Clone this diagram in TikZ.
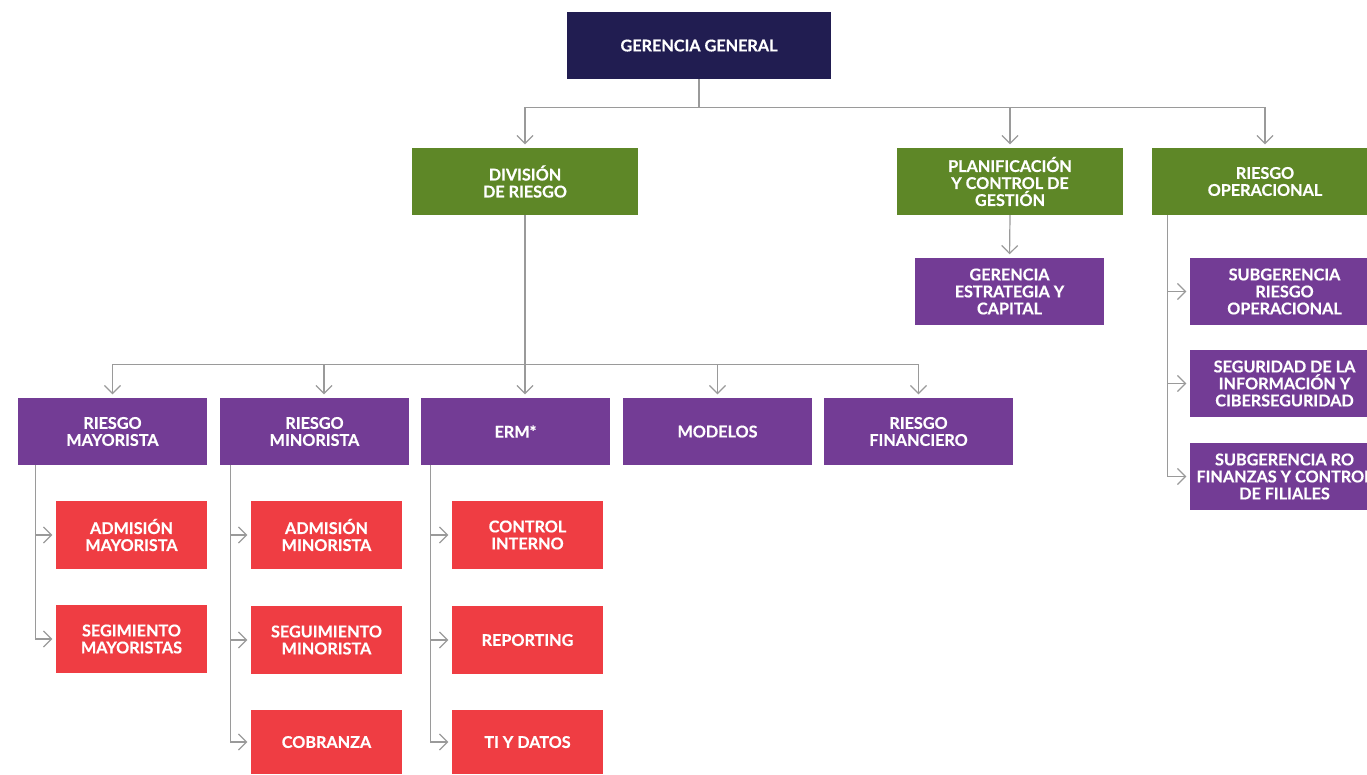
\documentclass[tikz,border=0pt]{standalone}
\usepackage{fontspec}
\setmainfont{Lato}
\newfontfamily\boxfont[BoldFeatures={FakeBold=0.5}]{Lato}
\usetikzlibrary{arrows.meta}
\definecolor{navy}{HTML}{211D51}
\definecolor{grn}{HTML}{5E8727}
\definecolor{purp}{HTML}{733C95}
\definecolor{redb}{HTML}{EF3D43}
\definecolor{linegray}{HTML}{9A9A9A}
\begin{document}
\begin{tikzpicture}[x=1pt,y=-1pt,
  box/.style={rectangle, inner sep=0pt, text=white, font=\boxfont\bfseries\fontsize{16.2}{17}\selectfont, align=center},
  one/.style={text depth=0pt},
  wide/.style={box, minimum width=226pt, minimum height=67pt},
  pbox/.style={box, fill=purp, minimum width=189pt, minimum height=67pt},
  rbox/.style={box, fill=redb, minimum width=151pt, minimum height=68pt},
  conn/.style={draw=linegray, line width=1.2pt},
  arr/.style={conn, -{Straight Barb[length=8pt,width=16pt,line width=1.2pt]}, shorten >=3.5pt}
]
\useasboundingbox (0,0) rectangle (1367,774);
\clip (0,0) rectangle (1367,774);
% top
\node[box, one, fill=navy, minimum width=264pt, minimum height=67pt] (gg) at (699,45.5) {GERENCIA GENERAL};
\node[wide, fill=grn] (div) at (525,181.5) {DIVISIÓN\\DE RIESGO};
\node[wide, fill=grn] (plan) at (1010,181.5) {PLANIFICACIÓN\\Y CONTROL DE\\GESTIÓN};
\node[wide, fill=grn] (rop) at (1265,181.5) {RIESGO\\OPERACIONAL};
\node[pbox] (gec) at (1009.5,291.5) {GERENCIA\\ESTRATEGIA Y\\CAPITAL};
\node[pbox] (sro) at (1284.5,291.5) {SUBGERENCIA\\RIESGO\\OPERACIONAL};
\node[pbox] (seg) at (1284.5,383.5) {SEGURIDAD DE LA\\INFORMACIÓN Y\\CIBERSEGURIDAD};
\node[pbox] (sub) at (1284.5,476.5) {SUBGERENCIA RO\\FINANZAS Y CONTROL\\DE FILIALES};
% second row
\node[pbox] (rmay) at (112.5,431.5) {RIESGO\\MAYORISTA};
\node[pbox] (rmin) at (314.5,431.5) {RIESGO\\MINORISTA};
\node[pbox, one] (erm) at (515.5,431.5) {ERM*};
\node[pbox, one] (mod) at (717.5,431.5) {MODELOS};
\node[pbox] (rfin) at (918.5,431.5) {RIESGO\\FINANCIERO};
% red
\node[rbox] (amay) at (131.5,535) {ADMISIÓN\\MAYORISTA};
\node[rbox] (smay) at (131.5,639) {SEGIMIENTO\\MAYORISTAS};
\node[rbox] (amin) at (326.5,535) {ADMISIÓN\\MINORISTA};
\node[rbox] (smin) at (326.5,640) {SEGUIMIENTO\\MINORISTA};
\node[rbox, one, minimum height=64pt] (cob) at (326.5,742) {COBRANZA};
\node[rbox] (ci) at (527.5,535) {CONTROL\\INTERNO};
\node[rbox, one] (rep) at (527.5,640) {REPORTING};
\node[rbox, one, minimum height=64pt] (ti) at (527.5,742) {TI Y DATOS};
% connectors top
\draw[conn] (gg.south) -- ++(0,28) coordinate (gj);
\draw[arr] (gj) -| (div.north);
\draw[arr] (gj) -| (plan.north);
\draw[arr] (gj) -| (rop.north);
\draw[arr] (plan.south) -- (gec.north);
% division bus
\draw[conn] (div.south) -- ++(0,149) coordinate (dj);
\draw[arr] (dj) -- (div.south |- erm.north);
\draw[arr] (dj) -| (rmay.north);
\draw[arr] (dj) -| ([xshift=9.5pt]rmin.north);
\draw[arr] (dj) -| (mod.north);
\draw[arr] (dj) -| (rfin.north);
% side trunks
\draw[arr] ([xshift=16pt]rop.south west) |- (sro.west);
\draw[arr] ([xshift=16pt]rop.south west) |- (seg.west);
\draw[arr] ([xshift=16pt]rop.south west) |- (sub.west);
\draw[arr] ([xshift=18pt]rmay.south west) |- (amay.west);
\draw[arr] ([xshift=18pt]rmay.south west) |- (smay.west);
\draw[arr] ([xshift=11pt]rmin.south west) |- (amin.west);
\draw[arr] ([xshift=11pt]rmin.south west) |- (smin.west);
\draw[arr] ([xshift=11pt]rmin.south west) |- (cob.west);
\draw[arr] ([xshift=10pt]erm.south west) |- (ci.west);
\draw[arr] ([xshift=10pt]erm.south west) |- (rep.west);
\draw[arr] ([xshift=10pt]erm.south west) |- (ti.west);
\end{tikzpicture}
\end{document}
